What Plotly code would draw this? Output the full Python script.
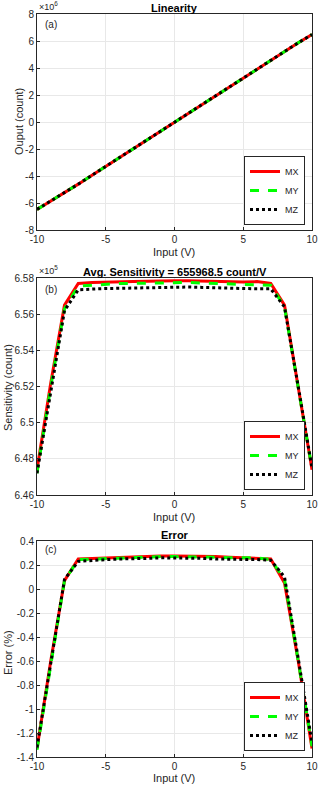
import plotly.graph_objects as go
from plotly.subplots import make_subplots

# input voltage (V)
x_in = [-10, -9, -8, -7, -6, -5, -4, -3, -2, -1, 0, 1, 2, 3, 4, 5, 6, 7, 8, 9, 10]

# output (x1e6 count)
out_mx = [-6.474, -5.870, -5.252, -4.604, -3.947, -3.289, -2.631, -1.973, -1.316, -0.658, 0.0,
          0.658, 1.316, 1.973, 2.631, 3.289, 3.947, 4.604, 5.252, 5.868, 6.474]
out_my = [-6.472, -5.868, -5.250, -4.603, -3.946, -3.288, -2.631, -1.973, -1.315, -0.658, 0.0,
          0.658, 1.315, 1.973, 2.631, 3.288, 3.946, 4.603, 5.251, 5.868, 6.474]
out_mz = [-6.472, -5.866, -5.250, -4.602, -3.944, -3.287, -2.630, -1.972, -1.315, -0.657, 0.0,
          0.657, 1.315, 1.972, 2.630, 3.287, 3.944, 4.602, 5.251, 5.868, 6.475]

# sensitivity (x1e5 count)
sen_mx = [6.474, 6.522, 6.565, 6.577, 6.5775, 6.5778, 6.578, 6.578, 6.5782, 6.5785, 6.5785,
          6.5785, 6.5783, 6.578, 6.578, 6.5778, 6.578, 6.577, 6.565, 6.520, 6.474]
sen_my = [6.472, 6.520, 6.563, 6.5755, 6.576, 6.5765, 6.577, 6.577, 6.5772, 6.5775, 6.5775,
          6.5775, 6.5772, 6.577, 6.577, 6.5768, 6.5765, 6.576, 6.564, 6.520, 6.4745]
sen_mz = [6.472, 6.518, 6.562, 6.5735, 6.574, 6.5742, 6.5743, 6.5745, 6.5748, 6.575, 6.5752,
          6.575, 6.5748, 6.5745, 6.5743, 6.5742, 6.574, 6.574, 6.564, 6.520, 6.475]

# error (%)
err_mx = [-1.33, -0.60, 0.07, 0.25, 0.255, 0.26, 0.265, 0.27, 0.27, 0.275, 0.275,
          0.275, 0.27, 0.27, 0.265, 0.26, 0.26, 0.25, 0.05, -0.60, -1.33]
err_my = [-1.34, -0.62, 0.07, 0.245, 0.25, 0.255, 0.26, 0.265, 0.265, 0.27, 0.27,
          0.27, 0.265, 0.265, 0.26, 0.26, 0.26, 0.245, 0.08, -0.60, -1.31]
err_mz = [-1.32, -0.63, 0.08, 0.23, 0.24, 0.245, 0.25, 0.25, 0.255, 0.26, 0.26,
          0.26, 0.255, 0.25, 0.25, 0.245, 0.245, 0.24, 0.10, -0.58, -1.28]

names = ["MX", "MY", "MZ"]
x_ticks = [-10, -5, 0, 5, 10]
x_ticktext = ["-10", "-5", "0", "5", "10"]
ya_ticks = [-8, -6, -4, -2, 0, 2, 4, 6, 8]
yb_ticks = [6.46, 6.48, 6.5, 6.52, 6.54, 6.56, 6.58]
yc_ticks = [-1.4, -1.2, -1, -0.8, -0.6, -0.4, -0.2, 0, 0.2, 0.4]

W, H = 320, 787
FONT = "Liberation Sans, Arial, sans-serif"
TXT = "#262626"
styles = [dict(color="#ff0000", width=3, dash="solid"),
          dict(color="#00ff00", width=3, dash="dash"),
          dict(color="#000000", width=3, dash="dot")]

fig = make_subplots(rows=3, cols=1)

panels = [
    (1, [out_mx, out_my, out_mz], "legend"),
    (2, [sen_mx, sen_my, sen_mz], "legend2"),
    (3, [err_mx, err_my, err_mz], "legend3"),
]
for row, series, leg in panels:
    for name, ys, st in zip(names, series, styles):
        fig.add_trace(go.Scatter(x=x_in, y=ys, mode="lines", name=name, line=st,
                                 legend=leg), row=row, col=1)

def px_y(p):
    return 1 - p / H

x_dom = [37 / W, 312 / W]
y_doms = [[px_y(230), px_y(14)], [px_y(495), px_y(278)], [px_y(757), px_y(541)]]
y_ranges = [[-8, 8], [6.46, 6.58], [-1.4, 0.4]]
y_tickss = [ya_ticks, yb_ticks, yc_ticks]

axis_common = dict(showline=True, linecolor=TXT, linewidth=1, mirror=True,
                   ticks="inside", ticklen=3, tickcolor=TXT, showgrid=True,
                   gridcolor="#e8e8e8", zeroline=False, automargin=False,
                   tickfont=dict(size=10, color=TXT, family=FONT))

for i in range(3):
    fig.update_xaxes(domain=x_dom, range=[-10, 10], tickvals=x_ticks, ticktext=x_ticktext,
                     row=i + 1, col=1, **axis_common)
    yt = y_tickss[i]
    fig.update_yaxes(domain=y_doms[i], range=y_ranges[i], tickvals=yt,
                     ticktext=[f"{v:g}" for v in yt],
                     row=i + 1, col=1, **axis_common)

def note(text, x, y, size, color=TXT, angle=0, xanchor="center"):
    fig.add_annotation(text=text, x=x / W, y=px_y(y), xref="paper", yref="paper",
                       showarrow=False, font=dict(size=size, color=color, family=FONT),
                       textangle=angle, xanchor=xanchor, yanchor="middle")

# titles, panel labels, axis titles
titles = ["Linearity", "Avg. Sensitivity = 655968.5 count/V", "Error"]
title_y = [8, 272, 535]
labels = ["(a)", "(b)", "(c)"]
label_y = [24, 289, 549]
y_titles = ["Ouput (count)", "Sensitivity (count)", "Error (%)"]
y_title_pos = [(19, 122), (8, 388), (8, 653)]
x_title_y = [252, 517, 778]
for i in range(3):
    note(f"<b>{titles[i]}</b>", (37 + 312) / 2, title_y[i], 11, color="#000000")
    note(labels[i], 43, label_y[i], 10, xanchor="left")
    note(y_titles[i], y_title_pos[i][0], y_title_pos[i][1], 11, angle=-90)
    note("Input (V)", 174, x_title_y[i], 11)

for e, ey in [("6", 6), ("5", 270)]:
    note(f"×10<sup>{e}</sup>", 37, ey, 9, xanchor="left")

leg_common = dict(xanchor="right", yanchor="bottom", bgcolor="white", bordercolor=TXT,
                  borderwidth=1, font=dict(size=9, color=TXT, family=FONT), itemwidth=30,
                  tracegroupgap=0)
fig.update_layout(
    width=W, height=H,
    margin=dict(l=0, r=0, t=0, b=0),
    paper_bgcolor="white", plot_bgcolor="white",
    showlegend=True,
    legend=dict(x=305 / W, y=px_y(225), **leg_common),
    legend2=dict(x=305 / W, y=px_y(490), **leg_common),
    legend3=dict(x=305 / W, y=px_y(751), **leg_common),
)

fig.write_html("out.html", config={"displayModeBar": False},
               post_script="document.body.style.margin='0';document.body.style.overflow='hidden';")
